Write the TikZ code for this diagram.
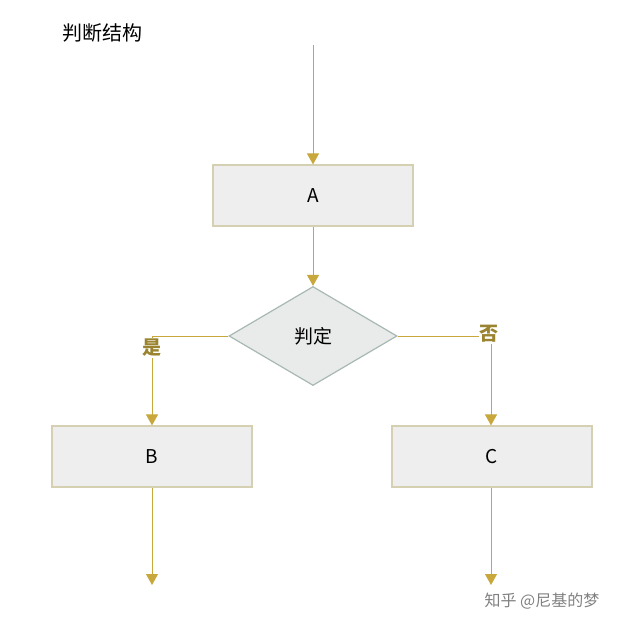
\documentclass[tikz,border=0pt]{standalone}
\usepackage{fontspec}
\setmainfont{Noto Sans CJK SC}
\usetikzlibrary{shapes.geometric,arrows.meta,patterns}
\definecolor{arr}{HTML}{C8A83C}
\definecolor{lab}{HTML}{9A8430}
\definecolor{boxb}{HTML}{D6D0B2}
\definecolor{boxf}{HTML}{EEEEEE}
\definecolor{dib}{HTML}{A8B8B2}
\definecolor{dif}{HTML}{E9EBEA}
\begin{document}
\begin{tikzpicture}[x=1pt,y=-1pt,
  procbox/.style={draw=boxb,line width=1.2pt,fill=boxf,minimum width=200pt,minimum height=61pt,font=\fontsize{19}{22}\selectfont},
  decis/.style={diamond,draw=dib,line width=1.2pt,fill=dif,minimum width=168pt,minimum height=99pt,aspect=1.7,inner sep=0pt,font=\fontsize{19}{22}\selectfont},
  conn/.style={draw=arr,line width=1pt,-{Triangle[length=11pt,width=12pt]}},
  plain/.style={draw=arr,line width=1pt},
  lbl/.style={text=lab,font=\bfseries\fontsize{19}{22}\selectfont,fill=white,inner sep=1pt}]
\useasboundingbox (0,0) rectangle (625,628);
\node[font=\fontsize{20}{24}\selectfont] (title) at (102,33) {判断结构};
\coordinate (s) at (313,45);
\node[procbox] (A) at (313,195.5) {A};
\node[decis] (D) at (313,336) {判定};
\node[procbox] (B) at (152,456.5) {B};
\node[procbox] (C) at (492,456.5) {C};
\coordinate (bl) at (152,336);
\coordinate (cr) at (491,336);
\coordinate (be) at (152,585);
\coordinate (ce) at (491,585);
\draw[conn] (s) -- (A.north);
\draw[conn] (A.south) -- (D.north);
\draw[plain] (D.west) -- (bl);
\draw[conn] (bl) -- (B.north);
\draw[plain] (D.east) -- (cr);
\draw[conn] (cr) -- (C.north -| cr);
\node[lbl] (yes) at (152,348) {是};
\node[lbl] (no) at (489,334) {否};
\draw[conn] (B.south) -- (be);
\draw[conn] (C.south -| ce) -- (ce);
\node[text=gray,font=\fontsize{16}{19}\selectfont] (wm) at (542,601) {知乎 @尼基的梦};
\end{tikzpicture}
\end{document}
